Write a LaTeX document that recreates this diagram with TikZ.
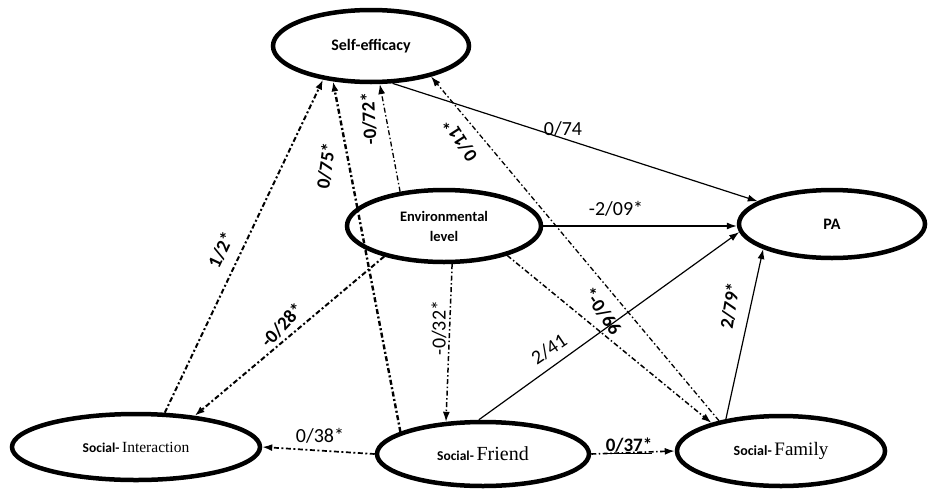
\documentclass[tikz,border=0pt]{standalone}
\usepackage{fontspec}
\setmainfont{Carlito}
\newfontfamily\serifb{Liberation Serif}
\usetikzlibrary{arrows.meta,shapes.geometric}
\begin{document}
\begin{tikzpicture}[x=1pt,y=-1pt,
 latent/.style={ellipse, draw, line width=4.5pt, inner sep=0pt, align=center, font=\bfseries\fontsize{16}{20}\selectfont},
 dd/.style={dash pattern=on 5pt off 2.5pt on 1.5pt off 2.5pt, line width=1.3pt},
 ddb/.style={dash pattern=on 5pt off 2.5pt on 2pt off 2.5pt, line width=2pt},
 sol/.style={line width=1.2pt},
 arr/.style={-{Latex[length=10pt,width=7pt]}},
 lab/.style={font=\fontsize{20}{20}\selectfont, inner sep=1pt},
 labb/.style={inner sep=1pt, font=\bfseries\fontsize{19}{19}\selectfont},
]
\useasboundingbox (0,0) rectangle (928,490);
\fill[white] (0,0) rectangle (928,490);

% latent variables
\node[latent, minimum width=196pt, minimum height=72pt] (se) at (371,46) {Self-efficacy};
\node[latent, minimum width=194pt, minimum height=72pt, font=\bfseries\fontsize{14.5}{20}\selectfont] (env) at (444,226) {Environmental\\level};
\node[latent, minimum width=186pt, minimum height=68pt] (pa) at (832,224) {PA};
\node[latent, minimum width=248pt, minimum height=66pt] (si) at (136,447)
  {{\bfseries\fontsize{13.5}{13}\selectfont Social-}\,{\serifb\mdseries\fontsize{15.5}{15}\selectfont Interaction}};
\node[latent, minimum width=212pt, minimum height=64pt] (sf) at (483,454)
  {{\bfseries\fontsize{13.5}{13}\selectfont Social-}\,{\serifb\mdseries\fontsize{20}{20}\selectfont Friend}};
\node[latent, minimum width=208pt, minimum height=70pt] (sfam) at (781,451)
  {{\bfseries\fontsize{14}{14}\selectfont Social-}\,{\serifb\mdseries\fontsize{19}{19}\selectfont Family}};

% paths
\draw[ddb,arr] (si.50) -- (se.215);
\draw[ddb,line width=2.4pt,arr] (sf.165) -- (se.223);
\draw[dd,arr] (env.142) -- (se.283);
\draw[dd,arr] (sfam.154) -- (se.333);
\draw[sol,arr] (se.300) -- (pa.163);
\draw[sol,arr] (env.east) -- (env.east -| pa.west);
\draw[ddb,arr] (env.207) -- (si.28);
\draw[dd,line width=1.5pt,arr] (env.282) -- (sf.139);
\draw[dd,line width=1.5pt,arr] (env.335) -- (sfam.158);
\draw[sol,arr] (sf.97) -- (pa.185);
\draw[sol,arr] (sfam.150) -- (pa.200);
\draw[ddb,line width=1.7pt,arr] (sf.west) -- (si.east);
\draw[dd,line width=1.6pt,arr] (sf.east) -- (sfam.west);

% labels
\node[labb, rotate=65] (l1) at (221,250) {1/2*};
\node[labb, rotate=82] (l2) at (326,166) {0/75*};
\node[labb, rotate=93] (l3) at (369,119) {-0/72*};
\node[labb, rotate=123] (l4) at (460,140) {0/11*};
\node[lab] (l5) at (563,129) {0/74};
\node[lab] (l6) at (616,209) {-2/09*};
\node[labb, rotate=47] (l7) at (282,325) {-0/28*};
\node[lab, rotate=90] (l8) at (439,328) {-0/32*};
\node[labb, rotate=-55] (l9) at (602,311) {*-0/66};
\node[lab, rotate=34] (l10) at (549,349) {2/41};
\node[labb, rotate=81] (l11) at (730,306) {2/79*};
\node[lab] (l12) at (320,436) {0/38*};
\node[labb] (l13) at (629,446) {\underline{0/37*}};
\end{tikzpicture}
\end{document}
